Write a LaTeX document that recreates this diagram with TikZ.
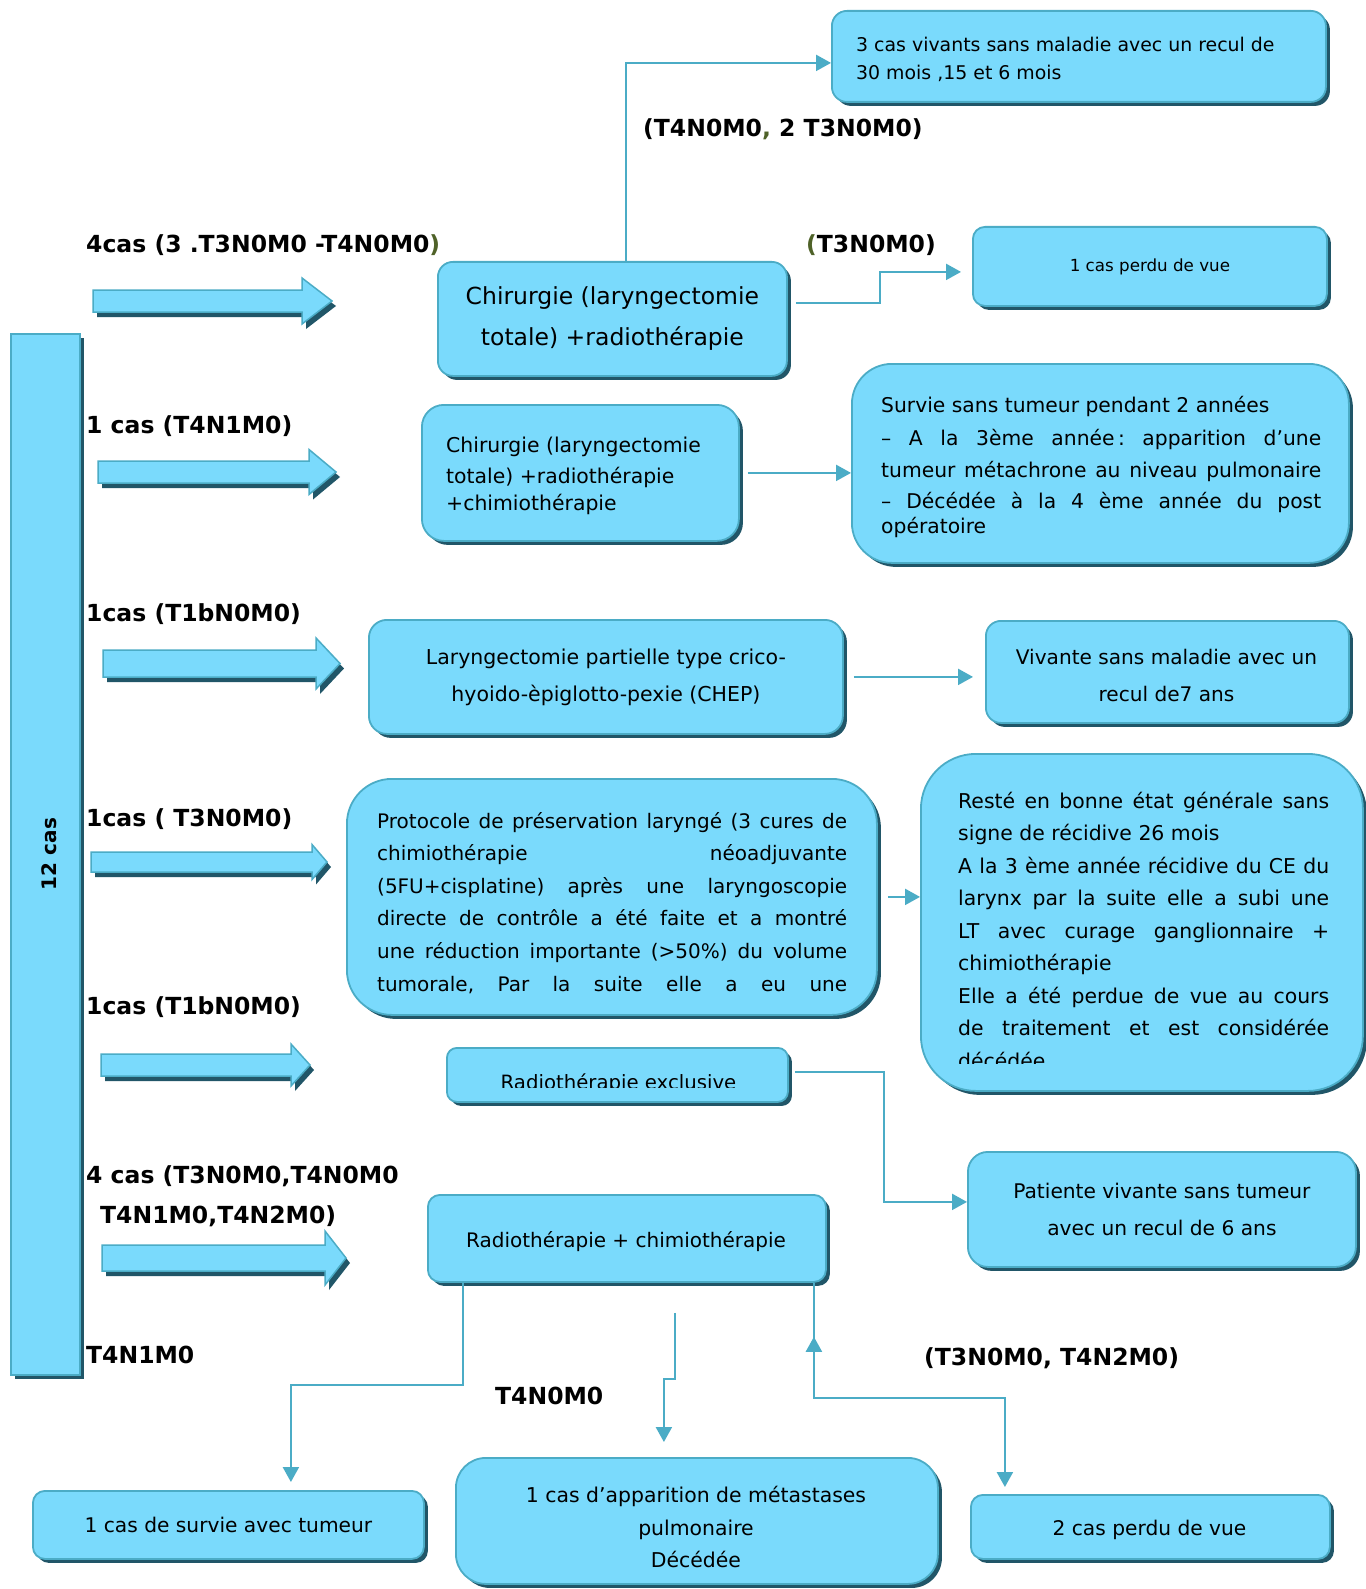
\documentclass[tikz,border=0pt]{standalone}
\usepackage{fontspec}
\setmainfont{DejaVu Sans}
\usetikzlibrary{arrows.meta,shadows,calc}
\definecolor{boxfill}{RGB}{122,218,252}
\definecolor{boxline}{RGB}{75,172,198}
\definecolor{shadowc}{RGB}{33,86,104}
\definecolor{connc}{RGB}{75,172,198}
\definecolor{dgreen}{RGB}{79,98,40}
\frenchspacing
\newcommand\blockarrow[6]{%
  \begin{scope}[shift={(4,5)}]
    \fill[shadowc] (#1,#4-#5) -- (#2,#4-#5) -- (#2,#4-#6) -- (#3,#4) -- (#2,#4+#6) -- (#2,#4+#5) -- (#1,#4+#5) -- cycle;
  \end{scope}
  \draw[draw=boxline, fill=boxfill, line width=1.5pt] (#1,#4-#5) -- (#2,#4-#5) -- (#2,#4-#6) -- (#3,#4) -- (#2,#4+#6) -- (#2,#4+#5) -- (#1,#4+#5) -- cycle;}
\newcommand\jl[1]{\makebox[\linewidth][s]{#1}}
\begin{document}
\begin{tikzpicture}[x=1pt,y=-1pt,
  box/.style={draw=boxline, line width=1.8pt, fill=boxfill, inner sep=0pt, anchor=north west,
    drop shadow={shadow xshift=4pt, shadow yshift=-4pt, fill=shadowc, opacity=1}},
  conn/.style={draw=connc, line width=2.2pt, -{Triangle[length=15pt,width=16pt]}},
  lbl/.style={anchor=base west, inner sep=0pt, font=\fontsize{23.5}{28}\selectfont\bfseries},
  txt/.style={inner sep=0pt, anchor=base west},
  ctext/.style={align=center},
  ctr/.style={inner sep=0pt, align=center},
]
\useasboundingbox (0,0) rectangle (1365,1589);
\fill[white] (0,0) rectangle (1365,1589);

% vertical bar
\node[box, minimum width=69pt, minimum height=1041pt] (bar) at (10,333) {};
\node[rotate=90, inner sep=0pt, font=\fontsize{20}{24}\selectfont\bfseries] (bart) at (49,854) {12 cas};

% block arrows
\blockarrow{93}{302}{332}{301}{11}{23}
\blockarrow{98}{309}{336}{472}{11}{22.5}
\blockarrow{103}{316}{340}{663.5}{13.5}{25.5}
\blockarrow{91}{312}{327}{862}{10}{17.5}
\blockarrow{101}{291}{310}{1065}{11}{21}
\blockarrow{102}{325}{346}{1258}{13}{27}

% boxes
\node[box, rounded corners=15pt, minimum width=494pt, minimum height=91pt] (B1) at (831,10) {};
\node[box, rounded corners=15pt, minimum width=349pt, minimum height=114pt, ctext, font=\fontsize{23.5}{41}\selectfont] (B2) at (437,261) {Chirurgie (laryngectomie\\totale) +radiothérapie};
\node[box, rounded corners=12pt, minimum width=354pt, minimum height=79pt, font=\fontsize{16.7}{20}\selectfont] (B3) at (972,226) {1 cas perdu de vue};
\node[box, rounded corners=22pt, minimum width=317pt, minimum height=136pt] (B4) at (421,404) {};
\node[box, rounded corners=40pt, minimum width=497pt, minimum height=199pt] (B5) at (851,363) {};
\node[box, rounded corners=18pt, minimum width=474pt, minimum height=114pt, ctext, font=\fontsize{20.5}{37}\selectfont] (B6) at (368,619) {Laryngectomie partielle type crico-\\hyoido-èpiglotto-pexie (CHEP)};
\node[box, rounded corners=15pt, minimum width=363pt, minimum height=102pt] (B7) at (985,620) {};
\node[box, rounded corners=45pt, minimum width=530pt, minimum height=236pt] (B8) at (346,778) {};
\node[box, rounded corners=55pt, minimum width=442pt, minimum height=337pt] (B9) at (920,753) {};
\node[box, rounded corners=10pt, minimum width=341pt, minimum height=54pt] (B10) at (446,1047) {};
\node[box, rounded corners=20pt, minimum width=388pt, minimum height=115pt, ctext, font=\fontsize{20.2}{37}\selectfont] (B11) at (967,1151) {Patiente vivante sans tumeur\\avec un recul de 6 ans};
\node[box, rounded corners=12pt, minimum width=398pt, minimum height=87pt] (B12) at (427,1194) {};
\node[box, rounded corners=12pt, minimum width=391pt, minimum height=68pt, font=\fontsize{20.2}{24}\selectfont] (B13) at (32,1490) {1 cas de survie avec tumeur};
\node[box, rounded corners=30pt, minimum width=482pt, minimum height=126pt] (B14) at (455,1457) {};
\node[box, rounded corners=12pt, minimum width=359pt, minimum height=64pt] (B15) at (970,1494) {};

% box texts
\node[txt] (B1t) at (856,52) {\parbox[t]{460pt}{\fontsize{18.9}{28}\selectfont
3 cas vivants sans maladie avec un recul de\\
30 mois ,15 et 6 mois}};
\node[txt] (B4t) at (446,452) {\parbox[t]{280pt}{\fontsize{20.4}{31}\selectfont
Chirurgie (laryngectomie\\
totale) +radiothérapie\\[-4pt]
+chimiothérapie}};
\node[txt] (B5t) at (881,412) {\parbox[t]{440pt}{\fontsize{20.3}{32}\selectfont
Survie sans tumeur pendant 2 années\\[1pt]
\jl{– A la 3ème année\,: apparition d’une}\\
\jl{tumeur métachrone au niveau pulmonaire}\\[-1pt]
\jl{– Décédée à la 4 ème année du post}\\[-7pt]
opératoire}};
\node[ctr, font=\fontsize{20.1}{37}\selectfont] (B7t) at (1166.5,675.5) {Vivante sans maladie avec un\\recul de7 ans};
\node[txt] (B8t) at (377,828) {\parbox[t]{470pt}{\fontsize{20}{32.6}\selectfont
\jl{Protocole de préservation laryngé (3 cures de}\\
\jl{chimiothérapie néoadjuvante}\\
\jl{(5FU+cisplatine) après une laryngoscopie}\\
\jl{directe de contrôle a été faite et a montré}\\
\jl{une réduction importante (>50\%) du volume}\\
\jl{tumorale, Par la suite elle a eu une}}};
\begin{scope}
\clip (920,753) rectangle (1365,1063);
\node[txt] (B9t) at (958,808) {\parbox[t]{371pt}{\fontsize{20.4}{32.5}\selectfont
\jl{Resté en bonne état générale sans}\\
signe de récidive 26 mois\\
\jl{A la 3 ème année récidive du CE du}\\
\jl{larynx par la suite elle a subi une}\\
\jl{LT avec curage ganglionnaire +}\\
chimiothérapie\\
\jl{Elle a été perdue de vue au cours}\\
\jl{de traitement et est considérée}\\
décédée}};
\end{scope}
\begin{scope}
\clip (446,1047) rectangle (787,1087.5);
\node[inner sep=0pt, anchor=base, font=\fontsize{19.7}{24}\selectfont] (B10t) at (618.5,1089) {Radiothérapie exclusive};
\end{scope}
\node[ctr, font=\fontsize{20}{24}\selectfont] (B12t) at (626,1242) {Radiothérapie + chimiothérapie};
\node[ctr, font=\fontsize{20.4}{32.3}\selectfont] (B14t) at (696,1527) {1 cas d’apparition de métastases\\pulmonaire\\Décédée};
\node[ctr, font=\fontsize{20.2}{24}\selectfont] (B15t) at (1149.5,1530) {2 cas perdu de vue};

% labels
\node[lbl] (L1) at (86,253) {4cas (3 .T3N0M0 -T4N0M0\textcolor{dgreen}{)}};
\node[lbl] (L2) at (643,137) {(T4N0M0\textcolor{dgreen}{,} 2 T3N0M0)};
\node[lbl] (L3) at (806,252) {\textcolor{dgreen}{(}T3N0M0)};
\node[lbl] (L4) at (86,433) {1 cas (T4N1M0)};
\node[lbl] (L5) at (86,621) {1cas (T1bN0M0)};
\node[lbl] (L6) at (86,826) {1cas ( T3N0M0)};
\node[lbl] (L7) at (86,1014) {1cas (T1bN0M0)};
\node[lbl] (L8) at (86,1183) {4 cas (T3N0M0,T4N0M0};
\node[lbl] (L9) at (100,1223) {T4N1M0,T4N2M0)};
\node[lbl] (L10) at (86,1363) {T4N1M0};
\node[lbl] (L11) at (495,1404) {T4N0M0};
\node[lbl] (L12) at (924,1365) {(T3N0M0, T4N2M0)};

% connectors
\draw[conn] ([xshift=13.5pt]B2.north) |- ([yshift=-6.5pt]B1.west);
\draw[conn, shorten >=11pt] ([xshift=8pt,yshift=16pt]B2.east) -- ++(84,0) |- ([yshift=-5.5pt]B3.west);
\draw[conn] ([xshift=8pt]B4.east) -- (B5.west |- B4.east);
\draw[conn, shorten >=12pt] ([xshift=10pt]B6.east) -- (B7.west |- B6.east);
\draw[conn] ([xshift=10pt]B8.east) -- (B9.west |- B8.east);
\draw[conn] ([xshift=6pt,yshift=3pt]B10.east) -- ++(89,0) |- ([yshift=7.5pt]B11.west);
\draw[conn, shorten >=8pt] ([xshift=-164pt]B12.south) -- ++(0,102) -| ([xshift=62.5pt]B13.north);
\draw[conn, shorten >=15pt] ([xshift=48pt,yshift=-30pt]B12.south) -- ++(0,66) -| ([xshift=-33pt]B14.north);
\draw[conn, shorten >=7pt] ([xshift=187pt]B12.south) -- ++(0,115) -| ([xshift=-145.5pt]B15.north);
\draw[conn] ([xshift=187pt,yshift=-69pt]B12.south) -- ([xshift=187pt,yshift=-54pt]B12.south);
\end{tikzpicture}
\end{document}
